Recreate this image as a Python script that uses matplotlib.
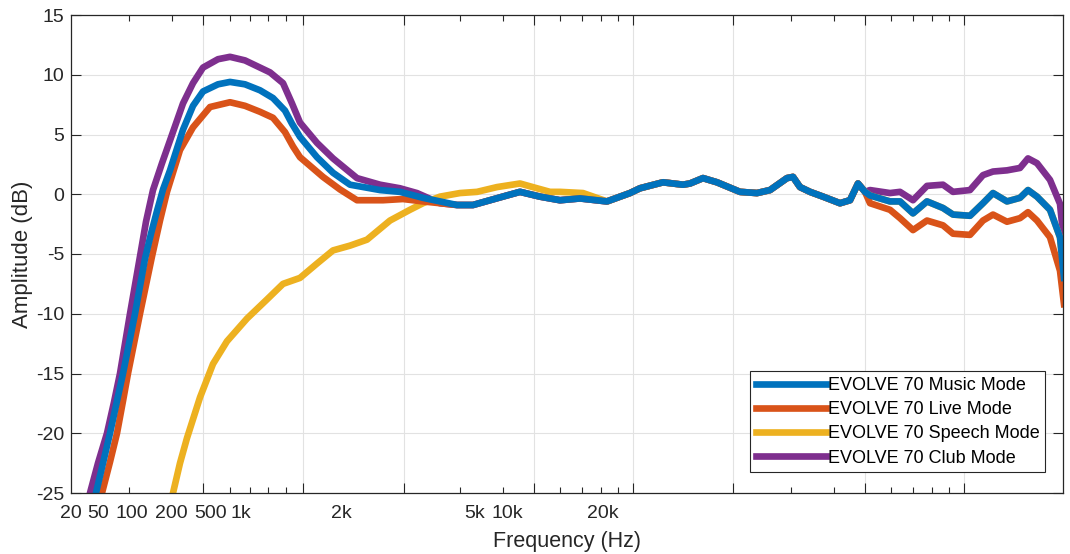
import matplotlib.pyplot as plt

plt.rcParams['font.family'] = ['Liberation Sans', 'DejaVu Sans']
plt.rcParams['axes.unicode_minus'] = False

# x positions (axis runs 71..1063), y in dB
low_club_x = [84, 90, 98, 107, 114, 120, 130, 140, 146, 153, 162, 170, 183, 193, 203, 218, 230, 245, 260, 270,
              283, 292, 300, 317, 333, 357, 380, 400, 417]
low_club_y = [-27.5, -25, -22.5, -20, -17.4, -15, -10, -5.2, -2.3, 0.35, 2.6, 4.5, 7.6, 9.3, 10.6, 11.3, 11.5, 11.2, 10.6, 10.2,
              9.3, 7.6, 6.0, 4.3, 3.0, 1.35, 0.8, 0.5, 0.1]

low_music_x = [90, 96, 103, 110, 117, 123, 135, 145, 151, 157, 163, 170, 183, 193, 203, 218, 230, 245, 260, 273,
               285, 292, 300, 317, 333, 350, 380, 400, 423]
low_music_y = [-27.5, -25, -22.5, -20, -17.3, -15, -10, -5.4, -3.3, -1.4, 0.4, 2.0, 5.4, 7.4, 8.6, 9.2, 9.4, 9.2, 8.7, 8.05,
               7.0, 5.9, 4.8, 3.1, 1.8, 0.8, 0.35, 0.2, -0.3]

low_live_x = [96, 102, 110, 117, 123, 128, 140, 152, 160, 167, 180, 193, 210, 230, 245, 260, 273, 285,
              293, 300, 323, 340, 357, 383, 403, 423]
low_live_y = [-27.5, -25, -22.4, -20, -17.3, -15, -10, -5.2, -2.2, 0.2, 3.7, 5.6, 7.3, 7.7, 7.4, 6.9, 6.4, 5.2,
              4.0, 3.1, 1.45, 0.4, -0.5, -0.5, -0.4, -0.6]

low_speech_x = [167, 173, 180, 187, 200, 213, 227, 247, 267, 283, 300, 317, 333, 350, 367, 390,
                410, 423, 440, 460, 477, 497, 520, 537, 550, 560, 583]
low_speech_y = [-27.5, -25, -22.5, -20.4, -17, -14.2, -12.3, -10.4, -8.8, -7.5, -7.0, -5.8, -4.7, -4.3, -3.8, -2.2,
                -1.3, -0.75, -0.2, 0.1, 0.2, 0.6, 0.9, 0.5, 0.2, 0.2, 0.1]

# where all modes are the same
shared_x = [440, 457, 473, 490, 507, 520, 540, 560, 580, 607, 630, 640, 663, 683, 690,
            703, 717, 740, 757, 770, 787, 793, 800, 810, 823, 840, 850, 858, 865]
shared_y = [-0.75, -0.9, -0.9, -0.5, -0.1, 0.2, -0.2, -0.5, -0.35, -0.6, 0.1, 0.5, 1.0, 0.8, 0.9,
            1.35, 1.0, 0.2, 0.1, 0.35, 1.35, 1.45, 0.6, 0.2, -0.2, -0.75, -0.5, 0.9, 0.2]

tail_x = [870, 890, 900, 913, 927, 943, 953, 970, 983, 993, 1007, 1020, 1028, 1037, 1050, 1060, 1064]
tail_club = [0.35, 0.1, 0.2, -0.5, 0.7, 0.8, 0.2, 0.35, 1.6, 1.9, 2.0, 2.2, 3.0, 2.6, 1.2, -0.8, -4.1]
tail_music = [-0.1, -0.6, -0.6, -1.6, -0.6, -1.15, -1.7, -1.8, -0.75, 0.1, -0.6, -0.3, 0.35, -0.2, -1.3, -3.6, -7.0]
tail_live = [-0.75, -1.3, -2.0, -3.0, -2.2, -2.6, -3.3, -3.4, -2.2, -1.7, -2.3, -2.0, -1.5, -2.2, -3.6, -6.4, -9.2]

labels = ['EVOLVE 70 Music Mode', 'EVOLVE 70 Live Mode',
          'EVOLVE 70 Speech Mode', 'EVOLVE 70 Club Mode']
colors = ['#0072BD', '#D95319', '#EDB120', '#7E2F8E']

tick_major = [203, 303, 404, 534, 633, 733, 865, 964]
tick_minor = [129, 172, 230, 250, 268, 286, 460, 503, 560, 582, 601, 618,
              791, 834, 891, 913, 932, 949]
freq_pos = [71, 98, 132, 171, 211, 241, 341, 475, 507, 603]
freq_labels = ['20', '50', '100', '200', '500', '1k', '2k', '5k', '10k', '20k']

series = {
    'music': (low_music_x + shared_x[1:] + tail_x, low_music_y + shared_y[1:] + tail_music),
    'live': (low_live_x + shared_x + tail_x, low_live_y + shared_y + tail_live),
    'speech': (low_speech_x + [x for x in shared_x if x > 583] + tail_x,
               low_speech_y + [y for x, y in zip(shared_x, shared_y) if x > 583] + tail_music),
    'club': (low_club_x + shared_x + tail_x, low_club_y + shared_y + tail_club),
}

fig = plt.figure(figsize=(10.7, 5.54), dpi=100)
ax = fig.add_axes([71 / 1070, 1 - 493 / 554, 992 / 1070, 478 / 554])

lines = {}
# draw club first so music ends on top
for key, lab, c in zip(['club', 'speech', 'live', 'music'], labels[::-1], colors[::-1]):
    xs, ys = series[key]
    lines[key], = ax.plot(xs, ys, color=c, lw=4.8, label=lab, solid_joinstyle='round')

ax.set_xlim(71, 1063)
ax.set_ylim(-25, 15)
ax.set_yticks(range(-25, 16, 5))
ax.set_xticks(tick_major)
ax.set_xticks(tick_minor, minor=True)
ax.set_xticklabels([])
ax.tick_params(axis='x', which='major', direction='in', length=7.5, width=0.8,
               top=True, bottom=True, colors='#262626')
ax.tick_params(axis='x', which='minor', direction='in', length=4.3, width=0.8,
               top=True, bottom=True, colors='#262626')
ax.tick_params(axis='y', direction='in', length=7, width=0.8, left=True, right=True,
               colors='#262626', labelsize=14, pad=5)
ax.grid(True, which='major', color='#e2e2e2', lw=0.8)
ax.set_axisbelow(True)
for s in ax.spines.values():
    s.set_color('#262626')
    s.set_linewidth(0.9)

sec = ax.secondary_xaxis('bottom')
sec.set_xticks(freq_pos)
sec.set_xticklabels(freq_labels)
sec.tick_params(length=0, labelsize=14, colors='#262626', pad=9)
sec.spines['bottom'].set_visible(False)

ax.set_xlabel('Frequency (Hz)', fontsize=15.5, color='#262626', labelpad=24)
ax.set_ylabel('Amplitude (dB)', fontsize=16, color='#262626', labelpad=2)

handles = [lines['music'], lines['live'], lines['speech'], lines['club']]
leg = ax.legend(handles, labels, loc='lower right', bbox_to_anchor=(0.982, 0.044),
                fontsize=13, frameon=True, fancybox=False, edgecolor='#262626',
                framealpha=1, borderaxespad=0, handlelength=3.9, handletextpad=0.1,
                labelspacing=0.4, borderpad=0.3)
leg.get_frame().set_linewidth(0.8)

fig.savefig('out.png', dpi=100)
